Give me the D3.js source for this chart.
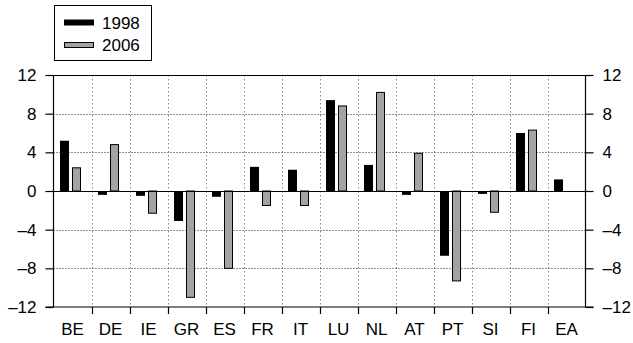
<!DOCTYPE html>
<html>
<head>
<meta charset="utf-8">
<script src="https://cdn.jsdelivr.net/npm/d3@7"></script>
<style>
  body { margin: 0; background: #fff; }
  svg text { font-family: "Liberation Sans", Arial, sans-serif; fill: #000; }
</style>
</head>
<body>
<svg id="chart" width="633" height="343"></svg>
<script>
// Country codes along the x axis
const countries = ["BE", "DE", "IE", "GR", "ES", "FR", "IT", "LU", "NL", "AT", "PT", "SI", "FI", "EA"];
// Series values (null = no bar)
const values1998 = [5.2, -0.4, -0.5, -3.1, -0.6, 2.5, 2.2, 9.4, 2.7, -0.4, -6.7, -0.3, 6.0, 1.2];
const values2006 = [2.4, 4.8, -2.3, -11.0, -8.0, -1.5, -1.5, 8.8, 10.2, 3.9, -9.3, -2.2, 6.3, null];
const yTicks = [-12, -8, -4, 0, 4, 8, 12];
const seriesNames = ["1998", "2006"];

const svg = d3.select("#chart");
const mLeft = 53.5, mRight = 585.5, mTop = 75, mBottom = 307;

const x = d3.scaleBand().domain(countries).range([mLeft, mRight]);
const y = d3.scaleLinear().domain([-12, 12]).range([mBottom, mTop]);

const fmt = v => v < 0 ? "\u2013" + Math.abs(v) : String(v);

// Gridlines
const grid = svg.append("g");
grid.selectAll("line.v")
  .data(countries.slice(1))
  .enter().append("line")
  .attr("x1", d => Math.round(x(d)) + 0.5).attr("x2", d => Math.round(x(d)) + 0.5)
  .attr("y1", mTop).attr("y2", mBottom)
  .attr("stroke", "#888").attr("stroke-width", 1).attr("stroke-dasharray", "1.5,2.5");
grid.selectAll("line.h")
  .data(yTicks.filter(t => t !== 0 && Math.abs(t) !== 12))
  .enter().append("line")
  .attr("x1", mLeft).attr("x2", mRight)
  .attr("y1", d => Math.round(y(d)) + 0.5).attr("y2", d => Math.round(y(d)) + 0.5)
  .attr("stroke", "#222").attr("stroke-width", 1).attr("stroke-dasharray", "1,2");

// Bars
const bw = 9, gap = 3.5;
const bars = svg.append("g");
bars.selectAll("rect.b98")
  .data(countries.map((c, i) => ({ c, v: values1998[i] })).filter(d => d.v != null))
  .enter().append("rect")
  .attr("x", d => x(d.c) + 6.5)
  .attr("width", bw)
  .attr("y", d => y(Math.max(0, d.v)))
  .attr("height", d => Math.abs(y(d.v) - y(0)))
  .attr("fill", "#000");
bars.selectAll("rect.b06")
  .data(countries.map((c, i) => ({ c, v: values2006[i] })).filter(d => d.v != null))
  .enter().append("rect")
  .attr("x", d => x(d.c) + 6.5 + bw + gap)
  .attr("width", bw - 1)
  .attr("y", d => y(Math.max(0, d.v)))
  .attr("height", d => Math.abs(y(d.v) - y(0)))
  .attr("fill", "#a3a3a3").attr("stroke", "#000").attr("stroke-width", 1);

// Zero line and frame
svg.append("line")
  .attr("x1", mLeft).attr("x2", mRight)
  .attr("y1", Math.round(y(0)) + 0.5).attr("y2", Math.round(y(0)) + 0.5)
  .attr("stroke", "#000").attr("stroke-width", 1.2);
svg.append("line").attr("x1", mLeft).attr("x2", mRight).attr("y1", mTop + 0.5).attr("y2", mTop + 0.5)
  .attr("stroke", "#000").attr("stroke-width", 1.2);

// Axes
const yLeft = d3.axisLeft(y).tickValues(yTicks).tickFormat(fmt).tickSize(8).tickPadding(9);
const yRight = d3.axisRight(y).tickValues(yTicks).tickFormat(fmt).tickSize(8).tickPadding(9);
const xAxis = d3.axisBottom(x).tickSize(0).tickPadding(16);

function styleAxis(g) {
  g.select(".domain").remove();
  g.selectAll("line").attr("stroke", "#000").attr("stroke-width", 1.2);
  g.selectAll("text").attr("font-size", 17).attr("font-family", "Liberation Sans, Arial, sans-serif");
}

svg.append("g").attr("transform", `translate(${mLeft},0)`).call(yLeft).call(styleAxis);
svg.append("g").attr("transform", `translate(${mRight},0)`).call(yRight).call(styleAxis);
svg.append("line").attr("x1", mLeft).attr("x2", mLeft).attr("y1", mTop).attr("y2", mBottom)
  .attr("stroke", "#000").attr("stroke-width", 1.2);
svg.append("line").attr("x1", mRight).attr("x2", mRight).attr("y1", mTop).attr("y2", mBottom)
  .attr("stroke", "#000").attr("stroke-width", 1.2);

svg.append("g").attr("transform", `translate(0,${mBottom})`).call(xAxis).call(styleAxis);
svg.append("line").attr("x1", mLeft - 8).attr("x2", mRight + 8).attr("y1", mBottom).attr("y2", mBottom)
  .attr("stroke", "#000").attr("stroke-width", 1.2);
// Bottom ticks at category boundaries
svg.append("g").selectAll("line")
  .data(countries.slice(1))
  .enter().append("line")
  .attr("x1", d => Math.round(x(d)) + 0.5).attr("x2", d => Math.round(x(d)) + 0.5)
  .attr("y1", mBottom).attr("y2", mBottom + 7)
  .attr("stroke", "#000").attr("stroke-width", 1.2);

// Legend
const lg = svg.append("g");
lg.append("rect").attr("x", 54.5).attr("y", 5.5).attr("width", 97).attr("height", 55)
  .attr("fill", "#fff").attr("stroke", "#000").attr("stroke-width", 1);
lg.append("rect").attr("x", 64).attr("y", 19.5).attr("width", 30).attr("height", 6).attr("fill", "#000");
lg.append("rect").attr("x", 64.5).attr("y", 42.5).attr("width", 29).attr("height", 5)
  .attr("fill", "#a3a3a3").attr("stroke", "#000").attr("stroke-width", 1);
lg.selectAll("text")
  .data(seriesNames)
  .enter().append("text")
  .attr("x", 102).attr("y", (d, i) => 29 + i * 22)
  .attr("font-size", 17)
  .text(d => d);
</script>
</body>
</html>
